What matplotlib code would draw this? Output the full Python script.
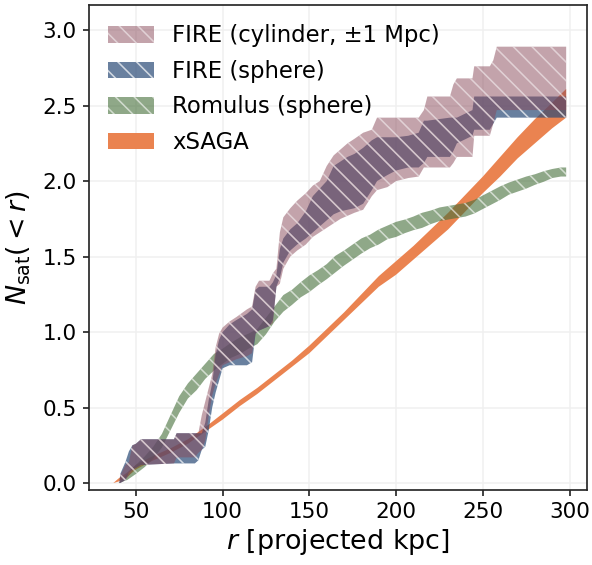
import matplotlib
matplotlib.use("Agg")
import matplotlib.pyplot as plt
import numpy as np

# ---------------- data ----------------
x_fire = [40.5, 41, 44, 46, 48, 50, 53, 72, 73.5, 84, 86, 88, 90, 92, 94, 96, 98, 100,
          104, 108, 114, 117, 119, 121, 127, 129, 131, 133, 135, 139, 143, 148, 152, 156,
          160, 164, 168, 172, 176, 181, 186, 189, 195, 200, 207, 213, 216, 218, 231, 233,
          235, 244, 245, 254, 256, 258, 270, 284, 298]
cyl_hi = [0.00, 0.05, 0.12, 0.14, 0.25, 0.26, 0.29, 0.29, 0.33, 0.33,
          0.33, 0.45, 0.54, 0.63, 0.72, 0.90, 0.99, 1.03, 1.07, 1.10,
          1.15, 1.17, 1.30, 1.34, 1.34, 1.39, 1.42, 1.66, 1.76, 1.82,
          1.87, 1.92, 1.97, 2.00, 2.10, 2.17, 2.21, 2.25, 2.28, 2.32,
          2.34, 2.42, 2.42, 2.42, 2.42, 2.42, 2.47, 2.56, 2.56, 2.64,
          2.68, 2.68, 2.76, 2.76, 2.80, 2.89, 2.89, 2.89, 2.89]
cyl_lo = [0.00, 0.00, 0.02, 0.05, 0.08, 0.10, 0.12, 0.13, 0.17, 0.17,
          0.20, 0.22, 0.28, 0.45, 0.58, 0.66, 0.72, 0.78, 0.80, 0.82,
          0.84, 0.86, 0.99, 1.01, 1.04, 1.06, 1.30, 1.32, 1.42, 1.50,
          1.54, 1.58, 1.63, 1.66, 1.69, 1.72, 1.75, 1.77, 1.79, 1.81,
          1.90, 1.94, 1.96, 2.00, 2.02, 2.03, 2.09, 2.09, 2.09, 2.12,
          2.16, 2.16, 2.30, 2.30, 2.38, 2.47, 2.47, 2.47, 2.47]
sph_hi = [0.00, 0.06, 0.14, 0.21, 0.25, 0.26, 0.29, 0.29, 0.33, 0.33,
          0.33, 0.33, 0.40, 0.55, 0.66, 0.85, 0.95, 1.00, 1.05, 1.08,
          1.12, 1.15, 1.28, 1.30, 1.30, 1.33, 1.38, 1.55, 1.62, 1.68,
          1.72, 1.80, 1.90, 1.95, 2.00, 2.10, 2.13, 2.16, 2.18, 2.22,
          2.27, 2.29, 2.29, 2.29, 2.30, 2.32, 2.40, 2.40, 2.42, 2.42,
          2.42, 2.47, 2.56, 2.56, 2.56, 2.56, 2.56, 2.56, 2.56]
sph_lo = [0.00, 0.00, 0.02, 0.07, 0.09, 0.10, 0.12, 0.13, 0.13, 0.13,
          0.15, 0.22, 0.24, 0.35, 0.50, 0.60, 0.68, 0.76, 0.78, 0.78,
          0.78, 0.80, 0.99, 1.01, 1.04, 1.08, 1.30, 1.36, 1.46, 1.54,
          1.58, 1.62, 1.66, 1.70, 1.74, 1.78, 1.80, 1.81, 1.82, 1.85,
          1.94, 2.00, 2.04, 2.07, 2.09, 2.09, 2.12, 2.16, 2.16, 2.20,
          2.25, 2.30, 2.34, 2.34, 2.38, 2.42, 2.42, 2.42, 2.42]

x_rom = [40, 45, 50, 55, 60, 65, 70, 75, 80, 85, 90, 95, 100, 105, 110, 115, 120, 125,
         130, 135, 140, 145, 150, 155, 160, 165, 170, 175, 180, 185, 190, 195, 200, 205,
         210, 215, 220, 225, 230, 235, 240, 245, 250, 255, 260, 265, 270, 275, 280, 285,
         290, 295, 298]
rom_mid = [0.00, 0.04, 0.09, 0.14, 0.20, 0.28, 0.40, 0.52, 0.61, 0.67,
           0.74, 0.80, 0.84, 0.88, 0.91, 0.94, 0.97, 1.04, 1.12, 1.19,
           1.23, 1.28, 1.32, 1.36, 1.40, 1.45, 1.49, 1.53, 1.57, 1.60,
           1.63, 1.66, 1.68, 1.70, 1.72, 1.74, 1.76, 1.78, 1.79, 1.80,
           1.81, 1.83, 1.86, 1.89, 1.92, 1.95, 1.97, 1.99, 2.01, 2.03,
           2.05, 2.06, 2.06]
rom_err = [0.00, 0.02, 0.03, 0.035, 0.04, 0.045, 0.05, 0.055, 0.05, 0.055,
           0.05, 0.055, 0.05, 0.05, 0.055, 0.05, 0.05, 0.055, 0.05, 0.055,
           0.05, 0.05, 0.055, 0.05, 0.05, 0.055, 0.05, 0.05, 0.05, 0.045,
           0.05, 0.045, 0.05, 0.045, 0.045, 0.05, 0.045, 0.045, 0.045, 0.045,
           0.045, 0.045, 0.045, 0.045, 0.045, 0.04, 0.04, 0.04, 0.035, 0.035,
           0.03, 0.03, 0.03]

x_saga = [37, 40, 45, 50, 55, 60, 70, 80, 90, 100, 110, 120, 130, 140, 150, 160, 170,
          180, 190, 200, 210, 220, 230, 240, 250, 260, 270, 280, 290, 298]
saga_lo = [0.00, 0.01, 0.04, 0.09, 0.12, 0.15, 0.20, 0.26, 0.34, 0.42, 0.51, 0.59, 0.68,
           0.77, 0.86, 0.97, 1.08, 1.19, 1.30, 1.38, 1.48, 1.58, 1.68, 1.80, 1.92, 2.03,
           2.15, 2.25, 2.35, 2.42]
saga_hi = [0.00, 0.03, 0.07, 0.12, 0.15, 0.18, 0.23, 0.29, 0.37, 0.46, 0.55, 0.63, 0.72,
           0.81, 0.91, 1.02, 1.13, 1.25, 1.37, 1.47, 1.57, 1.68, 1.79, 1.91, 2.03, 2.16,
           2.29, 2.41, 2.52, 2.61]

labels = ["FIRE (cylinder, \u00b11 Mpc)", "FIRE (sphere)", "Romulus (sphere)", "xSAGA"]
xticks = [50, 100, 150, 200, 250, 300]
yticks = [0.0, 0.5, 1.0, 1.5, 2.0, 2.5, 3.0]

# ---------------- style ----------------
DPI = 112
plt.rcParams['font.family'] = ['DejaVu Sans']
plt.rcParams['mathtext.fontset'] = 'dejavusans'
plt.rcParams['hatch.linewidth'] = 1.0
dark = '#262626'

fig = plt.figure(figsize=(592 / DPI, 565 / DPI), dpi=DPI)
ax = fig.add_axes([89 / 592, 1 - 490 / 565, (587 - 89) / 592, (490 - 5) / 565])

c_saga = '#EA8350'
c_rom = '#446e39'
c_sph = '#2a4a77'
c_cyl = '#894959'
HATCH = '\\\\'

h_saga = ax.fill_between(x_saga, saga_lo, saga_hi, facecolor=c_saga, edgecolor='none',
                         linewidth=0, zorder=2)
rom_lo = np.array(rom_mid) - np.array(rom_err)
rom_hi = np.array(rom_mid) + np.array(rom_err)
h_rom = ax.fill_between(x_rom, rom_lo, rom_hi, facecolor=c_rom, alpha=0.6,
                        edgecolor='white', linewidth=0, hatch=HATCH, zorder=3)
h_sph = ax.fill_between(x_fire, sph_lo, sph_hi, facecolor=c_sph, alpha=0.7,
                        edgecolor='white', linewidth=0, hatch=HATCH, zorder=4)
h_cyl = ax.fill_between(x_fire, cyl_lo, cyl_hi, facecolor=c_cyl, alpha=0.5,
                        edgecolor='white', linewidth=0, hatch=HATCH, zorder=5)

ax.set_xlim(23, 310)
ax.set_ylim(-0.046, 3.166)
ax.set_xticks(xticks)
ax.set_yticks(yticks)
ax.set_yticklabels([f"{v:.1f}" for v in yticks])
ax.grid(True, color='#f0f0f0', linewidth=1.0)
ax.set_axisbelow(True)

for s in ax.spines.values():
    s.set_color(dark)
    s.set_linewidth(1.1)
ax.tick_params(axis='both', direction='out', length=4, width=1.1, color=dark,
               labelsize=13.8, labelcolor='black', pad=4)

ax.set_xlabel(r'$r$ [projected kpc]', fontsize=17.3, labelpad=3)
ax.set_ylabel(r'$N_{\rm sat}(<r)$', fontsize=17.3, labelpad=6)

ax.legend([h_cyl, h_sph, h_rom, h_saga], labels, loc='upper left', frameon=False,
          fontsize=14.6, handlelength=2.0, handleheight=0.75, labelspacing=0.55,
          borderaxespad=0.45)

fig.savefig('out.png', dpi=DPI)
